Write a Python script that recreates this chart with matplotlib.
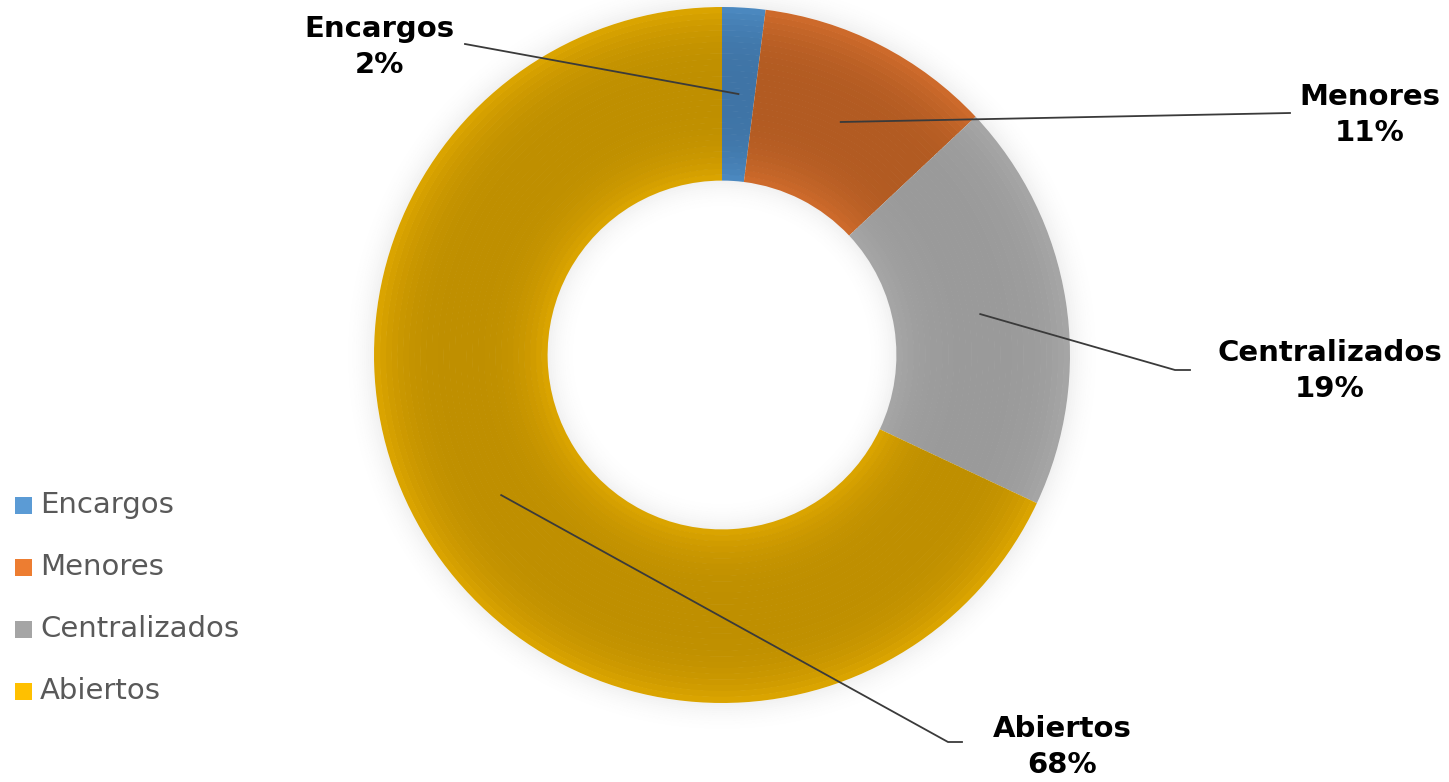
import numpy as np
import matplotlib
matplotlib.use("Agg")
import matplotlib.pyplot as plt
from matplotlib.patches import Wedge, Rectangle
from matplotlib.colors import to_rgb

# data
categories = ["Encargos", "Menores", "Centralizados", "Abiertos"]
shares = [2, 11, 19, 68]
legend_colors = ["#5B9BD5", "#ED7D31", "#A5A5A5", "#FFC000"]
mid_colors = ["#3F74A6", "#B25B22", "#9A9A9A", "#BF8F00"]
edge_colors = ["#4C8AC2", "#D06C2C", "#A6A6A6", "#DDA600"]

W, H = 1449, 782
dpi = 100
fig = plt.figure(figsize=(W / dpi, H / dpi), dpi=dpi)
ax = fig.add_axes([0, 0, 1, 1])


def py(y):
    return H - y


cx, cy = 722, py(355)
r_out, r_in = 348, 175

# soft shadow around the ring
for k in range(14):
    ax.add_patch(Wedge((cx, cy), r_out + 2 + k * 2, 0, 360, width=2,
                       facecolor="#7f7f7f", edgecolor="none",
                       alpha=0.10 * (1 - k / 14) ** 2, zorder=1))
    ax.add_patch(Wedge((cx, cy), r_in - k * 2, 0, 360, width=2,
                       facecolor="#7f7f7f", edgecolor="none",
                       alpha=0.10 * (1 - k / 14) ** 2, zorder=1))

# ring drawn in thin bands to get the radial shading
n = 30
radii = np.linspace(r_in, r_out, n + 1)
for i in range(n):
    t = (i + 0.5) / n
    w = (abs(t - 0.5) * 2) ** 3  # 0 mid, 1 edges
    cols = [tuple(np.array(to_rgb(m)) * (1 - w) + np.array(to_rgb(e)) * w)
            for m, e in zip(mid_colors, edge_colors)]
    wedges, _ = ax.pie(shares, colors=cols, startangle=90, counterclock=False,
                       center=(cx, cy), radius=radii[i + 1],
                       wedgeprops=dict(width=radii[i + 1] - radii[i] + 0.6,
                                       linewidth=0, edgecolor="none"),
                       frame=True)
    for wd in wedges:
        wd.set_zorder(2)
ax.set_xlim(0, W)
ax.set_ylim(0, H)
ax.set_aspect("equal")
ax.axis("off")

# data labels with leader lines
label_pos = [(379, 47), (1370, 115), (1330, 371), (1062, 747)]
line_end = [[(465, 44)], [(1290, 113)], [(1175, 370), (1190, 370)],
            [(948, 742), (962, 742)]]
r_mid = (r_out + r_in) / 2
start = 0
for cat, s, lp, le in zip(categories, shares, label_pos, line_end):
    frac = (start + s / 2) / sum(shares)
    ang = np.deg2rad(90 - 360 * frac)
    x0, y0 = cx + r_mid * np.cos(ang), cy + r_mid * np.sin(ang)
    xs = [x0] + [p[0] for p in le]
    ys = [y0] + [py(p[1]) for p in le]
    ax.plot(xs, ys, color="#3a3a3a", lw=1.3, zorder=4)
    ax.text(lp[0], py(lp[1]), f"{cat}\n{s}%", ha="center", va="center",
            fontsize=21, fontweight="bold", color="black", linespacing=1.35,
            family="DejaVu Sans", zorder=5)
    start += s

# legend
for i, (cat, col) in enumerate(zip(categories, legend_colors)):
    yy = py(505 + i * 62)
    ax.add_patch(Rectangle((15, yy - 8.5), 17, 17, facecolor=col,
                           edgecolor="none", zorder=5))
    ax.text(40, yy, cat, ha="left", va="center", fontsize=21,
            color="#595959", family="DejaVu Sans", zorder=5)

fig.savefig("out.png", dpi=dpi)
